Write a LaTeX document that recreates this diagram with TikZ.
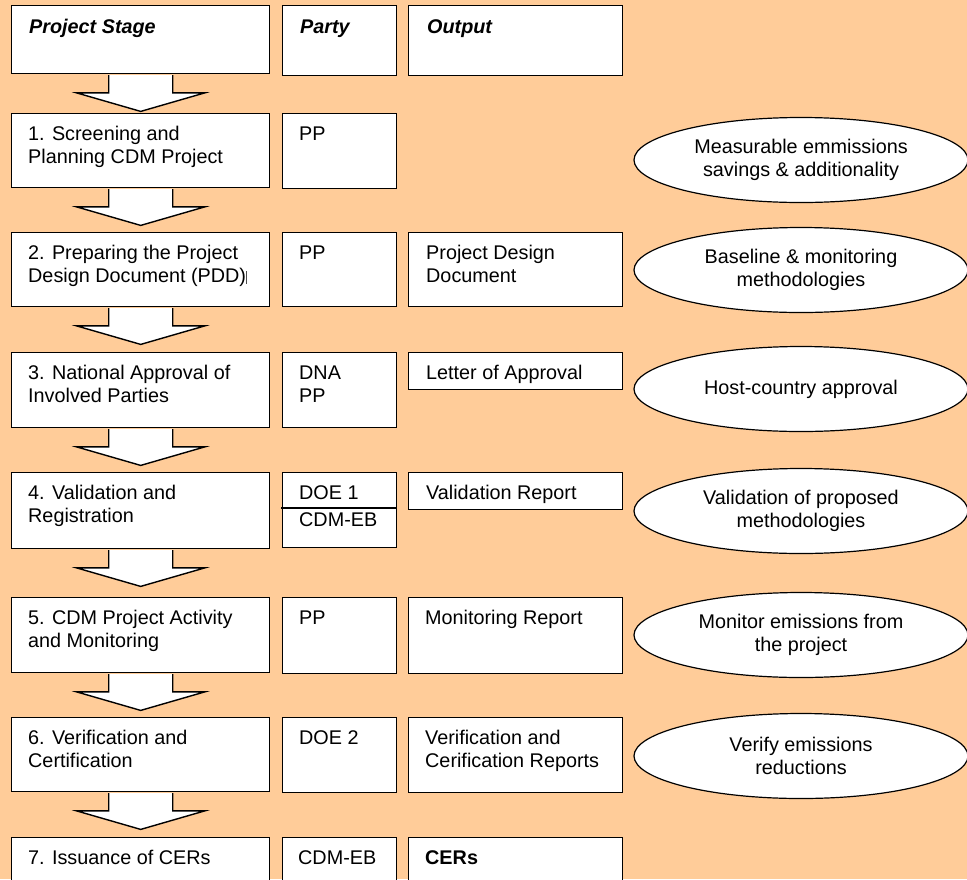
\documentclass[tikz,border=0pt]{standalone}
\usepackage{fontspec}
\setmainfont{Liberation Sans}
\usetikzlibrary{shapes.geometric,calc}
\definecolor{peach}{RGB}{255,204,153}
\newcommand\fs{\fontsize{19.8}{23}\selectfont}
\tikzset{
  stagebox/.style={draw=black, fill=white, line width=1.4pt, minimum width=258pt, minimum height=74pt, anchor=north west, inner sep=0pt},
  partybox/.style={stagebox, minimum width=114pt},
  outbox/.style={stagebox, minimum width=214pt},
  txt/.style={anchor=base west, align=left, inner sep=0pt, font=\fs},
  oval/.style={ellipse, draw=black, fill=white, line width=1.2pt, minimum width=334pt, minimum height=85pt, inner sep=0pt, align=center, font=\fs},
  blockarr/.style={draw=black, fill=white, line width=1.4pt, line join=miter}
}
\newcommand\blockarrow[1]{%
  \draw[blockarr] ($(#1.south)+(-32,0.7)$) -- ($(#1.south)+(-32,18.5)$) -- ($(#1.south)+(-64,18.5)$)
    -- ($(#1.south)+(0,37)$) -- ($(#1.south)+(64,18.5)$) -- ($(#1.south)+(32,18.5)$) -- ($(#1.south)+(32,0.7)$);
}
\begin{document}
\begin{tikzpicture}[x=1pt,y=-1pt]
\useasboundingbox (0,0) rectangle (967,879);
\clip (0,0) rectangle (967,879);
\fill[peach] (0,0) rectangle (967,879);

% header
\node[stagebox, minimum height=68pt] (h1) at (11,5) {};
\node[partybox, minimum height=70pt] (h2) at (282,5) {};
\node[outbox, minimum height=70pt] (h3) at (408,5) {};
\node[txt] (h1t) at ($(h1.north west)+(18,28)$) {\bfseries\itshape Project Stage};
\node[txt] (h2t) at ($(h2.north west)+(18,28)$) {\bfseries\itshape Party};
\node[txt] (h3t) at ($(h3.north west)+(19,28)$) {\bfseries\itshape Output};

% row 1
\node[stagebox] (s1) at (11,113) {};
\node[partybox, minimum height=75pt] (p1) at (282,113) {};
\node[txt] (s1t) at ($(s1.north west)+(17,50)$) {1. Screening and\\Planning CDM Project};
\node[txt] (p1t) at ($(p1.north west)+(17,27)$) {PP};

% row 2
\node[stagebox] (s2) at (11,232) {};
\node[partybox] (p2) at (282,232) {};
\node[outbox] (o2) at (408,232) {};
\node[txt] (s2t) at ($(s2.north west)+(17,50)$) {2. Preparing the Project\\Design Document (PDD)};
\draw[line width=0.8pt, black!70] (246.5,271) -- (246.5,284);
\node[txt] (p2t) at ($(p2.north west)+(17,27)$) {PP};
\node[txt] (o2t) at ($(o2.north west)+(18,50)$) {Project Design\\Document};

% row 3
\node[stagebox, minimum height=75pt] (s3) at (11,352) {};
\node[partybox, minimum height=75pt] (p3) at (282,352) {};
\node[outbox, minimum height=37pt] (o3) at (408,352) {};
\node[txt] (s3t) at ($(s3.north west)+(17,50)$) {3. National Approval of\\Involved Parties};
\node[txt] (p3t) at ($(p3.north west)+(17,50)$) {DNA\\PP};
\node[txt] (o3t) at ($(o3.north west)+(18,27)$) {Letter of Approval};

% row 4
\node[stagebox, minimum height=76pt] (s4) at (11,472) {};
\node[partybox, minimum height=75pt] (p4) at (282,472) {};
\node[outbox, minimum height=37pt] (o4) at (408,472) {};
\draw[line width=1.4pt] ($(p4.north west)+(-1,36)$) -- ($(p4.north east)+(0,36)$);
\node[txt] (s4t) at ($(s4.north west)+(17,50)$) {4. Validation and\\Registration};
\node[txt] (p4t) at ($(p4.north west)+(17,27)$) {DOE 1};
\node[txt] (p4u) at ($(p4.north west)+(17,54)$) {CDM-EB};
\node[txt] (o4t) at ($(o4.north west)+(18,27)$) {Validation Report};

% row 5
\node[stagebox, minimum height=75pt] (s5) at (11,597) {};
\node[partybox, minimum height=76pt] (p5) at (282,597) {};
\node[outbox, minimum height=76pt] (o5) at (408,597) {};
\node[txt] (s5t) at ($(s5.north west)+(17,50)$) {5. CDM Project Activity\\and Monitoring};
\node[txt] (p5t) at ($(p5.north west)+(17,27)$) {PP};
\node[txt] (o5t) at ($(o5.north west)+(17,27)$) {Monitoring Report};

% row 6
\node[stagebox] (s6) at (11,717) {};
\node[partybox, minimum height=75pt] (p6) at (282,717) {};
\node[outbox, minimum height=75pt] (o6) at (408,717) {};
\node[txt] (s6t) at ($(s6.north west)+(17,50)$) {6. Verification and\\Certification};
\node[txt] (p6t) at ($(p6.north west)+(17,27)$) {DOE 2};
\node[txt] (o6t) at ($(o6.north west)+(17,50)$) {Verification and\\Cerification Reports};

% row 7
\node[stagebox] (s7) at (11,837) {};
\node[partybox] (p7) at (282,837) {};
\node[outbox] (o7) at (408,837) {};
\node[txt] (s7t) at ($(s7.north west)+(17,27)$) {7. Issuance of CERs};
\node[txt] (p7t) at ($(p7.north west)+(16,27)$) {CDM-EB};
\node[txt] (o7t) at ($(o7.north west)+(17,27)$) {\bfseries CERs};

% block arrows
\blockarrow{h1}
\blockarrow{s1}
\blockarrow{s2}
\blockarrow{s3}
\blockarrow{s4}
\blockarrow{s5}
\blockarrow{s6}

% ellipses
\node[oval] (e1) at (801,160) {Measurable emmissions\\savings \& additionality};
\node[oval] (e2) at (801,270) {Baseline \& monitoring\\methodologies};
\node[oval] (e3) at (801,389) {Host-country approval};
\node[oval] (e4) at (801,511) {Validation of proposed\\methodologies};
\node[oval] (e5) at (801,635) {Monitor emissions from\\the project};
\node[oval] (e6) at (801,756) {Verify emissions\\reductions};
\end{tikzpicture}
\end{document}
